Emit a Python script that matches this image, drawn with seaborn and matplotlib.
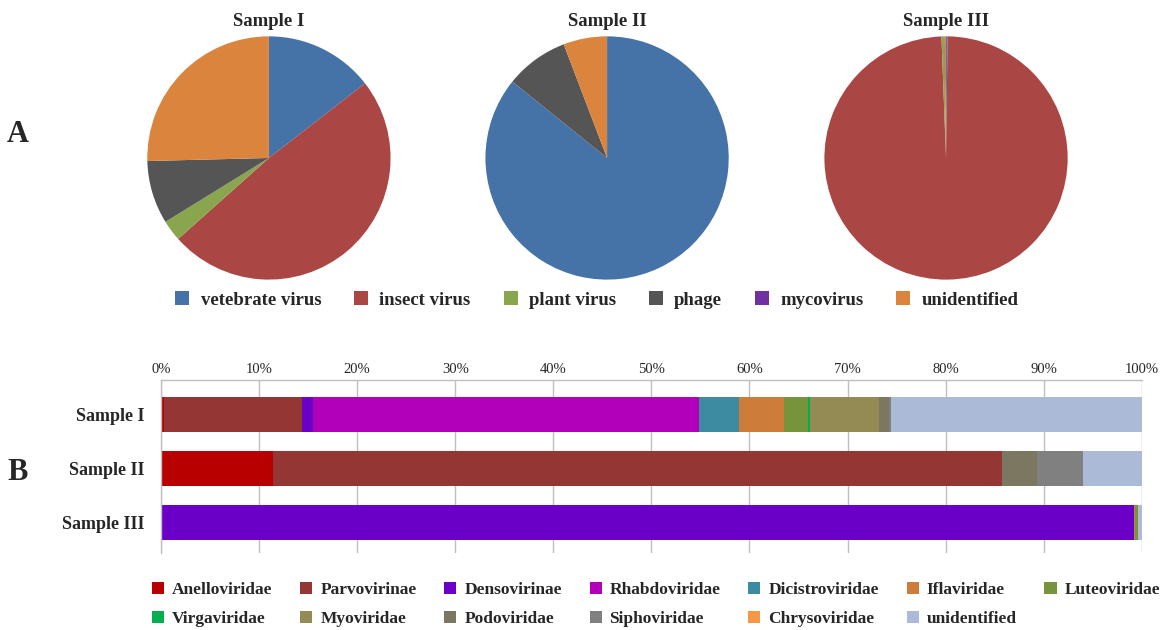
import numpy as np
import pandas as pd
import matplotlib.pyplot as plt
import seaborn as sns
from matplotlib.patches import Patch

# ---- pie data (percent of reads per host group) ----
pie_samples = ['Sample I', 'Sample II', 'Sample III']
pie_groups = ['vetebrate virus', 'insect virus', 'plant virus', 'phage', 'mycovirus', 'unidentified']
pie_s1 = [14.5, 48.9, 2.8, 8.4, 0.0, 25.4]
pie_s2 = [85.8, 0.0, 0.0, 8.4, 0.0, 5.8]
pie_s3 = [0.2, 99.2, 0.3, 0.1, 0.0, 0.2]
pie_colors = ['#4572A7', '#AA4643', '#89A54E', '#555555', '#7030A0', '#DB843D']

# ---- stacked bar data (percent per family) ----
bar_samples = ['Sample I', 'Sample II', 'Sample III']
families = ['Anelloviridae', 'Parvovirinae', 'Densovirinae', 'Rhabdoviridae', 'Dicistroviridae',
            'Iflaviridae', 'Luteoviridae', 'Virgaviridae', 'Myoviridae', 'Podoviridae',
            'Siphoviridae', 'Chrysoviridae', 'unidentified']
bar_s1 = [0.34, 14.07, 1.12, 39.33, 4.08, 4.56, 2.5, 0.15, 7.1, 1.0, 0.2, 0.0, 25.55]
bar_s2 = [11.39, 74.37, 0.0, 0.0, 0.0, 0.0, 0.0, 0.0, 0.0, 3.53, 4.76, 0.0, 5.95]
bar_s3 = [0.05, 0.0, 99.17, 0.0, 0.0, 0.08, 0.3, 0.0, 0.0, 0.0, 0.0, 0.0, 0.4]
family_colors = ['#B80000', '#943634', '#6A00C8', '#B200BA', '#3D8BA0', '#CD7C3A', '#77933C',
                 '#00B050', '#948A54', '#7B7760', '#808080', '#F79646', '#ABBAD6']

sns.set_theme(style='white')
plt.rcParams['font.family'] = ['Liberation Serif', 'DejaVu Serif']

fig = plt.figure(figsize=(11.66, 6.3), dpi=100)

# panel A: pies
pie_left = [0.126, 0.416, 0.7067]
for left, name, vals in zip(pie_left, pie_samples, [pie_s1, pie_s2, pie_s3]):
    ax = fig.add_axes([left, 0.5556, 0.2093, 0.3873])
    ax.pie(vals, colors=pie_colors, startangle=90, counterclock=False,
           wedgeprops=dict(linewidth=0))
    ax.set_xlim(-1.003, 1.003)
    ax.set_ylim(-1.003, 1.003)
    ax.set_aspect('equal')
    ax.set_title(name, fontsize=13.5, fontweight='bold', pad=7)

pie_handles = [Patch(facecolor=c, edgecolor='none') for c in pie_colors]
fig.legend(pie_handles, pie_groups, loc='center', bbox_to_anchor=(597 / 1166, 1 - 300 / 630),
           ncol=6, frameon=False, prop=dict(weight='bold', size=13.5),
           handlelength=0.75, handleheight=0.75, handletextpad=0.6, columnspacing=1.75)

# panel B: stacked horizontal bars (layered cumulative sums)
df = pd.DataFrame([bar_s1, bar_s2, bar_s3], columns=families)
df.insert(0, 'sample', bar_samples)
cum = df[families].cumsum(axis=1)
cum['sample'] = df['sample']

axb = fig.add_axes([0.1381, 0.1227, 0.8411, 0.2741])
for fam, col in reversed(list(zip(families, family_colors))):
    sns.barplot(data=cum, x=fam, y='sample', orient='h', color=col, saturation=1,
                width=0.65, linewidth=0, errorbar=None, ax=axb)

axb.set_xlim(0, 100)
axb.set_ylim(2.57, -0.65)
axb.set_xticks(np.arange(0, 101, 10))
axb.set_xticklabels([f'{t}%' for t in range(0, 101, 10)], fontsize=10.5)
axb.xaxis.tick_top()
axb.tick_params(axis='x', length=0, pad=3)
axb.tick_params(axis='y', length=0, pad=12)
for lab in axb.get_yticklabels():
    lab.set_fontweight('bold')
    lab.set_fontsize(13)
axb.set_xlabel('')
axb.set_ylabel('')
axb.set_axisbelow(True)
axb.grid(axis='x', color='#BFBFBF', linewidth=1)
axb.grid(axis='y', visible=False)
for side in ['bottom', 'right']:
    axb.spines[side].set_visible(False)
for side in ['top', 'left']:
    axb.spines[side].set_color('#BFBFBF')
    axb.spines[side].set_linewidth(1)

fam_handles = [Patch(facecolor=c, edgecolor='none') for c in family_colors]
order = [0, 7, 1, 8, 2, 9, 3, 10, 4, 11, 5, 12, 6]
fig.legend([fam_handles[i] for i in order], [families[i] for i in order],
           loc='center', bbox_to_anchor=(656 / 1166, 1 - 604.5 / 630), ncol=7, frameon=False,
           prop=dict(weight='bold', size=12.5), handlelength=0.7, handleheight=0.7,
           handletextpad=0.45, columnspacing=1.6, labelspacing=0.7)

fig.text(17.5 / 1166, 1 - 135 / 630, 'A', fontsize=22, fontweight='bold', ha='center', va='center')
fig.text(17.5 / 1166, 1 - 472 / 630, 'B', fontsize=22, fontweight='bold', ha='center', va='center')

fig.savefig('out.png', dpi=100, facecolor='white')
